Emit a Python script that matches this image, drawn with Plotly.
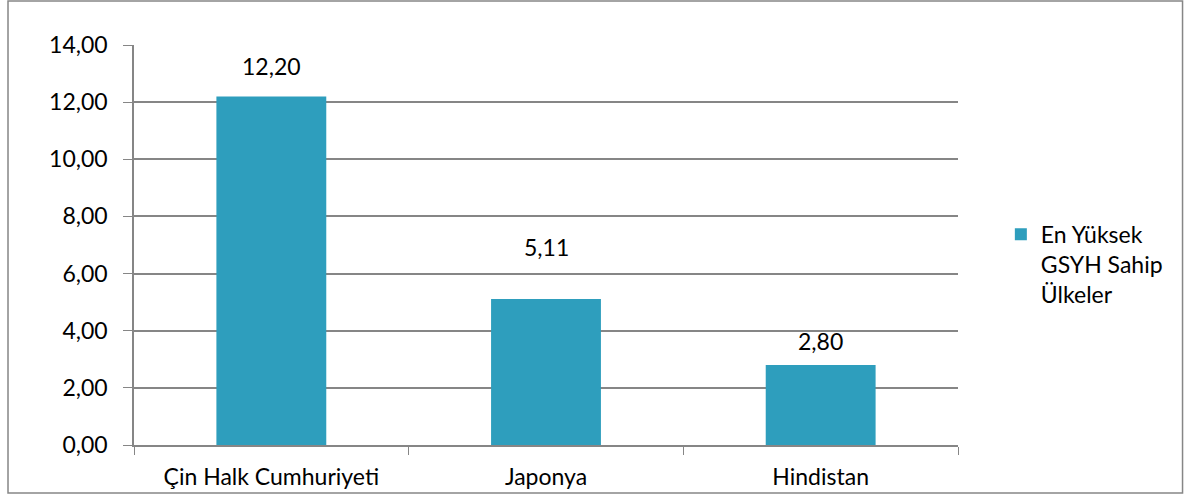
import plotly.graph_objects as go

categories = ["Çin Halk Cumhuriyeti", "Japonya", "Hindistan"]
values = [12.20, 5.11, 2.80]
series_name = "En Yüksek<br>GSYH Sahip<br>Ülkeler"
y_ticks = [0, 2, 4, 6, 8, 10, 12, 14]

FONT = "Lato"
FS = 23
GRID = "#868686"
BAR = "#2e9ebd"

label_shift = [14, 36, 8]

fig = go.Figure()
fig.add_trace(go.Bar(
    x=categories, y=values, name=series_name,
    marker=dict(color=BAR, line=dict(width=0)),
    showlegend=True,
))

for c, v, s in zip(categories, values, label_shift):
    fig.add_annotation(x=c, y=v, text=f"{v:.2f}".replace(".", ","),
                       showarrow=False, yanchor="bottom", yshift=s,
                       font=dict(family=FONT, size=FS, color="#000000"))

# outer chart border
fig.add_shape(type="rect", xref="paper", yref="paper",
              x0=-0.1529, x1=1.2725, y0=-0.12, y1=1.11,
              line=dict(color=GRID, width=1.5), fillcolor="rgba(0,0,0,0)")

fig.update_layout(
    width=1185, height=495,
    margin=dict(l=134, r=227, t=45, b=50),
    paper_bgcolor="white", plot_bgcolor="white",
    separators=",.",
    bargap=0.6,
    font=dict(family=FONT, size=FS, color="#000000"),
    legend=dict(x=1.052, y=0.452, xanchor="left", yanchor="middle",
                font=dict(family=FONT, size=FS), valign="top",
                itemwidth=30),
    xaxis=dict(tickson="boundaries", ticks="outside", ticklen=8, tickcolor=GRID,
               showline=True, linecolor=GRID, linewidth=1.5, showgrid=False,
               tickfont=dict(family=FONT, size=FS), ticklabelstandoff=11,
               automargin=False),
    yaxis=dict(range=[0, 14], tickvals=y_ticks, tickformat=".2f",
               ticks="outside", ticklen=9, tickcolor=GRID,
               showline=True, linecolor=GRID, linewidth=1.5,
               showgrid=True, gridcolor=GRID, gridwidth=1.5,
               tickfont=dict(family=FONT, size=FS), ticklabelstandoff=11,
               zeroline=False, automargin=False),
)

fig.write_html("out.html", config={"displayModeBar": False},
               post_script="document.body.style.margin='0';document.body.style.overflow='hidden';")
